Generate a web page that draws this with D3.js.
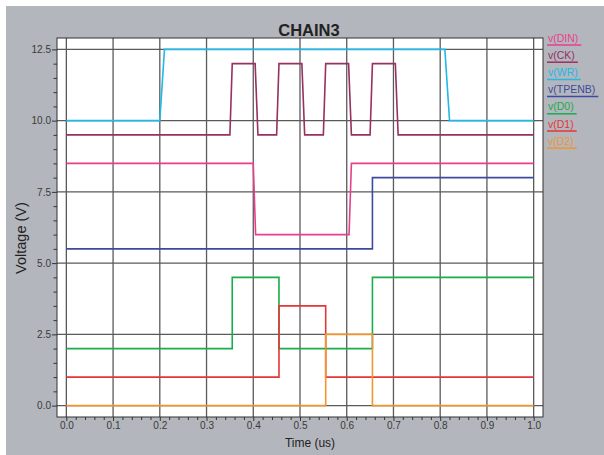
<!DOCTYPE html>
<html>
<head>
<meta charset="utf-8">
<script src="https://cdn.jsdelivr.net/npm/d3@7"></script>
<style>
	body { margin: 0; background: #fff; }
	svg { display: block; font-family: 'Liberation Sans', Arial, sans-serif; }
	.axis path { display: none; }
	.axis line { stroke: #333; }
	.axis text { fill: #3a3a3a; font-size: 10px; }
	.grid line { stroke: #5a5a5a; stroke-width: 1.3; }
	.trace { fill: none; stroke-width: 1.6; stroke-linejoin: miter; }
</style>
</head>
<body>
<script>
// series, in legend (and drawing) order
var seriesNames = ['v(DIN)', 'v(CK)', 'v(WR)', 'v(TPENB)', 'v(D0)', 'v(D1)', 'v(D2)'];
var seriesColors = ['#e83e8c', '#983060', '#22b8e8', '#3d4a9e', '#19ad4c', '#e63535', '#ef9630'];

// waveforms: time (us) / voltage (V)
var dinTime = [0, 0.4, 0.405, 0.605, 0.61, 1.0];
var dinVolt = [8.5, 8.5, 6.0, 6.0, 8.5, 8.5];

var ckTime = [0, 0.35, 0.355, 0.404, 0.41, 0.45, 0.455, 0.504, 0.51, 0.55, 0.555, 0.604, 0.61, 0.65, 0.655, 0.704, 0.71, 1.0];
var ckVolt = [9.5, 9.5, 12, 12, 9.5, 9.5, 12, 12, 9.5, 9.5, 12, 12, 9.5, 9.5, 12, 12, 9.5, 9.5];

var wrTime = [0, 0.2, 0.21, 0.81, 0.82, 1.0];
var wrVolt = [10, 10, 12.5, 12.5, 10, 10];

var tpenbTime = [0, 0.655, 0.655, 1.0];
var tpenbVolt = [5.5, 5.5, 8.0, 8.0];

var d0Time = [0, 0.355, 0.355, 0.455, 0.455, 0.655, 0.655, 1.0];
var d0Volt = [2.0, 2.0, 4.5, 4.5, 2.0, 2.0, 4.5, 4.5];

var d1Time = [0, 0.455, 0.455, 0.555, 0.555, 1.0];
var d1Volt = [1.0, 1.0, 3.5, 3.5, 1.0, 1.0];

var d2Time = [0, 0.555, 0.555, 0.655, 0.655, 1.0];
var d2Volt = [0, 0, 2.5, 2.5, 0, 0];

var xTicks = [0, 0.1, 0.2, 0.3, 0.4, 0.5, 0.6, 0.7, 0.8, 0.9, 1.0];
var yTicks = [0, 2.5, 5.0, 7.5, 10.0, 12.5];

function ChainChart() {
	this.chart = {};
	this.data = {};
	this.data.times = [dinTime, ckTime, wrTime, tpenbTime, d0Time, d1Time, d2Time];
	this.data.volts = [dinVolt, ckVolt, wrVolt, tpenbVolt, d0Volt, d1Volt, d2Volt];

	this.props = {};
	this.props.width = 604;
	this.props.height = 455;
	this.props.plot = { left: 57, right: 543, top: 38, bottom: 417 };
}

ChainChart.prototype.createChart = function() {
	var p = this.props.plot;
	this.chart.svg = d3.select('body')
		.append('svg')
		.attr('width', this.props.width)
		.attr('height', this.props.height);

	// gray panel
	this.chart.svg.append('rect')
		.attr('x', 6)
		.attr('y', 6)
		.attr('width', this.props.width - 6)
		.attr('height', this.props.height - 6)
		.attr('fill', '#b3b6bc');

	this.chart.svg.append('rect')
		.attr('x', p.left)
		.attr('y', p.top)
		.attr('width', p.right - p.left)
		.attr('height', p.bottom - p.top)
		.attr('fill', '#fff');

	this.chart.x = d3.scaleLinear()
		.domain([-0.02, 1.02])
		.range([p.left, p.right]);
	this.chart.y = d3.scaleLinear()
		.domain([-0.4, 12.9])
		.range([p.bottom, p.top]);
}

ChainChart.prototype.addGrid = function() {
	var that = this;
	var p = this.props.plot;
	var grid = this.chart.svg.append('g').attr('class', 'grid');

	grid.selectAll('.vgrid')
		.data(xTicks)
		.enter()
		.append('line')
			.attr('x1', function(d) { return that.chart.x(d); })
			.attr('x2', function(d) { return that.chart.x(d); })
			.attr('y1', p.top)
			.attr('y2', p.bottom);

	grid.selectAll('.hgrid')
		.data(yTicks)
		.enter()
		.append('line')
			.attr('x1', p.left)
			.attr('x2', p.right)
			.attr('y1', function(d) { return that.chart.y(d); })
			.attr('y2', function(d) { return that.chart.y(d); });
}

ChainChart.prototype.addAxes = function() {
	var p = this.props.plot;
	var fmt = d3.format('.1f');

	var xMinor = d3.range(0, 51).map(function(i) { return i / 50; })
		.filter(function(d, i) { return i % 5 !== 0; });
	var yMinor = d3.range(0, 26).map(function(i) { return i / 2; })
		.filter(function(d, i) { return i % 5 !== 0; });

	this.chart.svg.append('g')
		.attr('class', 'x axis')
		.attr('transform', 'translate(0,' + p.bottom + ')')
		.call(d3.axisBottom(this.chart.x).tickValues(xTicks).tickFormat(fmt).tickSize(4).tickPadding(1));
	this.chart.svg.append('g')
		.attr('class', 'x axis')
		.attr('transform', 'translate(0,' + p.bottom + ')')
		.call(d3.axisBottom(this.chart.x).tickValues(xMinor).tickFormat('').tickSize(3));

	this.chart.svg.append('g')
		.attr('class', 'y axis')
		.attr('transform', 'translate(' + p.left + ',0)')
		.call(d3.axisLeft(this.chart.y).tickValues(yTicks).tickFormat(fmt).tickSize(5).tickPadding(1));
	this.chart.svg.append('g')
		.attr('class', 'y axis')
		.attr('transform', 'translate(' + p.left + ',0)')
		.call(d3.axisLeft(this.chart.y).tickValues(yMinor).tickFormat('').tickSize(3.5));

	// frame
	this.chart.svg.append('rect')
		.attr('x', p.left)
		.attr('y', p.top)
		.attr('width', p.right - p.left)
		.attr('height', p.bottom - p.top)
		.attr('fill', 'none')
		.attr('stroke', '#333')
		.attr('stroke-width', 1);

	this.chart.svg.append('text')
		.attr('x', 310)
		.attr('y', 447)
		.attr('text-anchor', 'middle')
		.style('font-size', '12px')
		.style('fill', '#222')
		.text('Time (us)');

	this.chart.svg.append('text')
		.attr('transform', 'translate(26,238) rotate(-90)')
		.attr('text-anchor', 'middle')
		.style('font-size', '14.5px')
		.style('fill', '#222')
		.text('Voltage (V)');

	this.chart.svg.append('text')
		.attr('x', 309)
		.attr('y', 36)
		.attr('text-anchor', 'middle')
		.style('font-size', '16.5px')
		.style('font-weight', 'bold')
		.style('fill', '#222')
		.text('CHAIN3');
}

ChainChart.prototype.addTraces = function() {
	var that = this;
	var line = d3.line()
		.x(function(d) { return that.chart.x(d[0]); })
		.y(function(d) { return that.chart.y(d[1]); });

	this.chart.svg.selectAll('.trace')
		.data(seriesNames)
		.enter()
		.append('path')
			.attr('class', 'trace')
			.attr('stroke', function(d, i) { return seriesColors[i]; })
			.attr('d', function(d, i) {
				return line(d3.zip(that.data.times[i], that.data.volts[i]));
			});
}

ChainChart.prototype.addLegend = function() {
	var legend = this.chart.svg.append('g')
		.attr('class', 'legend')
		.attr('transform', 'translate(548,0)');

	var rows = legend.selectAll('.row')
		.data(seriesNames)
		.enter()
		.append('g')
			.attr('transform', function(d, i) { return 'translate(0,' + (41.5 + i * 17.2) + ')'; });

	rows.append('text')
		.style('font-size', '10.5px')
		.style('fill', function(d, i) { return seriesColors[i]; })
		.text(function(d) { return d; });

	rows.append('line')
		.attr('x1', -1)
		.attr('y1', 3.5)
		.attr('y2', 3.5)
		.attr('x2', function() {
			return this.parentNode.querySelector('text').getComputedTextLength() + 3;
		})
		.attr('stroke', function(d, i) { return seriesColors[i]; })
		.attr('stroke-width', 1.5);
}

var chain = new ChainChart();
chain.createChart();
chain.addGrid();
chain.addAxes();
chain.addTraces();
chain.addLegend();
</script>
</body>
</html>
